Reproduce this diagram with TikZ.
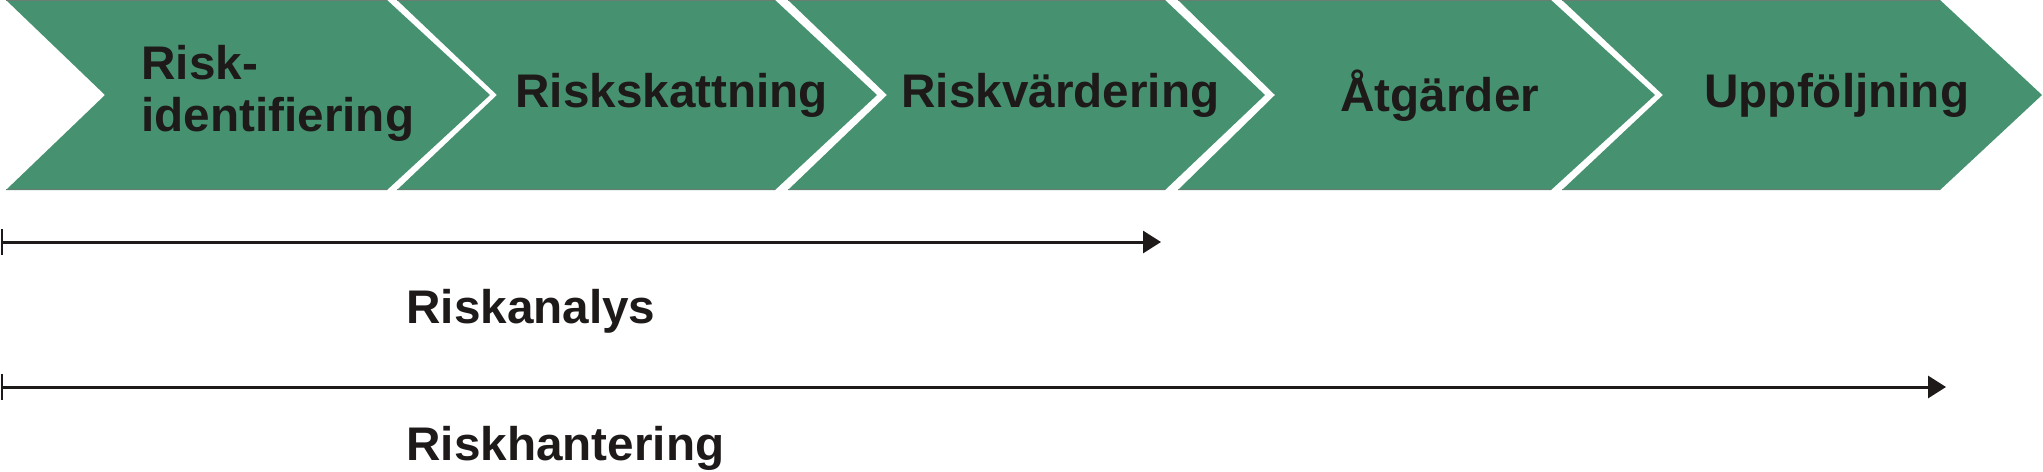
\documentclass[tikz,border=0pt]{standalone}
\usepackage{fontspec}
\newfontfamily\lab{Liberation Sans Bold}[FakeStretch=1.01]
\usetikzlibrary{arrows.meta}
\definecolor{chev}{RGB}{70,146,112}
\definecolor{rimc}{RGB}{105,125,115}
\definecolor{ink}{RGB}{30,26,26}
\begin{document}
\begin{tikzpicture}[x=0.5pt,y=-0.5pt,
  chevron/.style={fill=chev},
  rim/.style={draw=rimc,line width=0.6pt},
  lbl/.style={font=\lab\fontsize{23.6pt}{27pt}\selectfont, text=ink, inner sep=0pt, anchor=base west},
  span/.style={draw=ink,line width=1.5pt,-{Triangle[length=9pt,width=11pt]}},
  tickmark/.style={draw=ink,line width=1.2pt}]
\useasboundingbox (0,0) rectangle (2043,471);
\fill[white] (0,0) rectangle (2043,471);
\foreach \a/\b/\n/\t in {6/387/105/490, 397/775/497/877, 788/1165/887/1265, 1178/1551/1275/1655, 1562/1940/1663/2042} {
  \fill[chevron] (\a,0) -- (\b,0) -- (\t,95) -- (\b,190) -- (\a,190) -- (\n,95) -- cycle;
  \draw[rim] (\a,0.6) -- (\b,0.6) (\a,189.4) -- (\b,189.4);
}
\node[lbl] (t1a) at (141,79) {Risk-};
\node[lbl] (t1b) at (141,131) {identifiering};
\node[lbl] (t2) at (515,107) {Riskskattning};
\node[lbl] (t3) at (901,107) {Riskvärdering};
\node[lbl] (t4) at (1340,111) {Åtgärder};
\node[lbl] (t5) at (1704,107) {Uppföljning};
\node[lbl] (t6) at (406,323) {Riskanalys};
\node[lbl] (t7) at (406,460) {Riskhantering};
\coordinate (a1s) at (2,242);
\coordinate (a1e) at (1161,242);
\coordinate (a1u) at (2,229);
\coordinate (a1d) at (2,255);
\coordinate (a2s) at (2,387);
\coordinate (a2e) at (1946,387);
\coordinate (a2u) at (2,374);
\coordinate (a2d) at (2,400);
\draw[tickmark] (a1u) -- (a1d);
\draw[tickmark] (a2u) -- (a2d);
\draw[span] (a1s) -- (a1e);
\draw[span] (a2s) -- (a2e);
\end{tikzpicture}
\end{document}
